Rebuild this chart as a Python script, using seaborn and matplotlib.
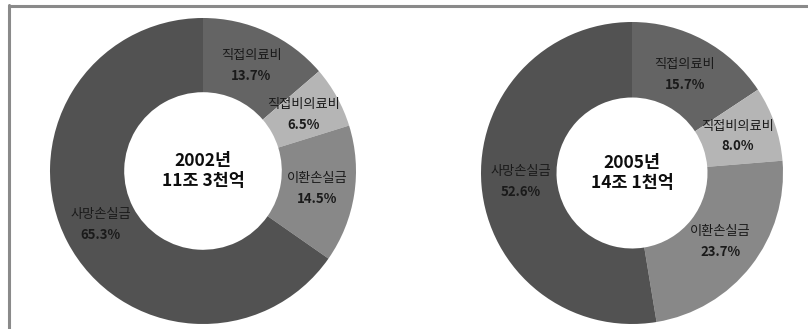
import numpy as np
import matplotlib
matplotlib.use("Agg")
import matplotlib.pyplot as plt
from matplotlib.lines import Line2D
import seaborn as sns

# Cost components (share of total, %) for each year
categories = ["직접의료비", "직접비의료비", "이환손실금", "사망손실금"]
shares_2002 = [13.7, 6.5, 14.5, 65.3]
shares_2005 = [15.7, 8.0, 23.7, 52.6]
center_titles = ["2002년\n11조 3천억", "2005년\n14조 1천억"]
pct_labels_2002 = ["13.7%", "6.5%", "14.5%", "65.3%"]
pct_labels_2005 = ["15.7%", "8.0%", "23.7%", "52.6%"]

sns.set_theme(style="white")
plt.rcParams["font.family"] = ["Noto Sans CJK KR", "DejaVu Sans"]

colors = ["#646464", "#b5b5b5", "#888888", "#525252"]

W, H = 808, 329
fig = plt.figure(figsize=(W / 100, H / 100), dpi=100)
fig.patch.set_facecolor("white")


def px_axes(cx, cy, r):
    """Square axes centred on pixel (cx, cy) with half-size r (y measured from top)."""
    return fig.add_axes([(cx - r) / W, (H - cy - r) / H, 2 * r / W, 2 * r / H])


def donut(ax, values, pcts, title, hole, label_r):
    wedges, _ = ax.pie(
        values,
        colors=colors,
        startangle=90,
        counterclock=False,
        radius=1.0,
        wedgeprops=dict(width=1.0 - hole, linewidth=0, edgecolor="none"),
    )
    for w, name, pct in zip(wedges, categories, pcts):
        mid = np.deg2rad((w.theta1 + w.theta2) / 2.0)
        x, y = label_r * np.cos(mid), label_r * np.sin(mid)
        ax.text(x, y + 0.068, name, ha="center", va="center",
                fontsize=9.5, color="#1a1a1a", fontweight="medium")
        ax.text(x, y - 0.066, pct, ha="center", va="center",
                fontsize=9.5, color="#1a1a1a", fontweight="bold")
    ax.text(0, 0.0, title, ha="center", va="center", fontsize=12.5,
            color="#0d0d0d", fontweight="bold", linespacing=1.12)
    ax.set_xlim(-1, 1)
    ax.set_ylim(-1, 1)
    ax.set_aspect("equal")
    ax.axis("off")


ax1 = px_axes(203, 171, 153)
donut(ax1, shares_2002, pct_labels_2002, center_titles[0], hole=0.515, label_r=0.755)

ax2 = px_axes(632, 173, 151)
donut(ax2, shares_2005, pct_labels_2005, center_titles[1], hole=0.50, label_r=0.74)

# Outer frame: top and left rules
frame_col = "#8a8a8a"
fig.add_artist(Line2D([8.5 / W, 1.0], [1 - 6 / H, 1 - 6 / H],
                      transform=fig.transFigure, color=frame_col, linewidth=2.2))
fig.add_artist(Line2D([9 / W, 9 / W], [0.0, 1 - 5 / H],
                      transform=fig.transFigure, color=frame_col, linewidth=2.2))

fig.savefig("out.png", dpi=100, facecolor="white")
